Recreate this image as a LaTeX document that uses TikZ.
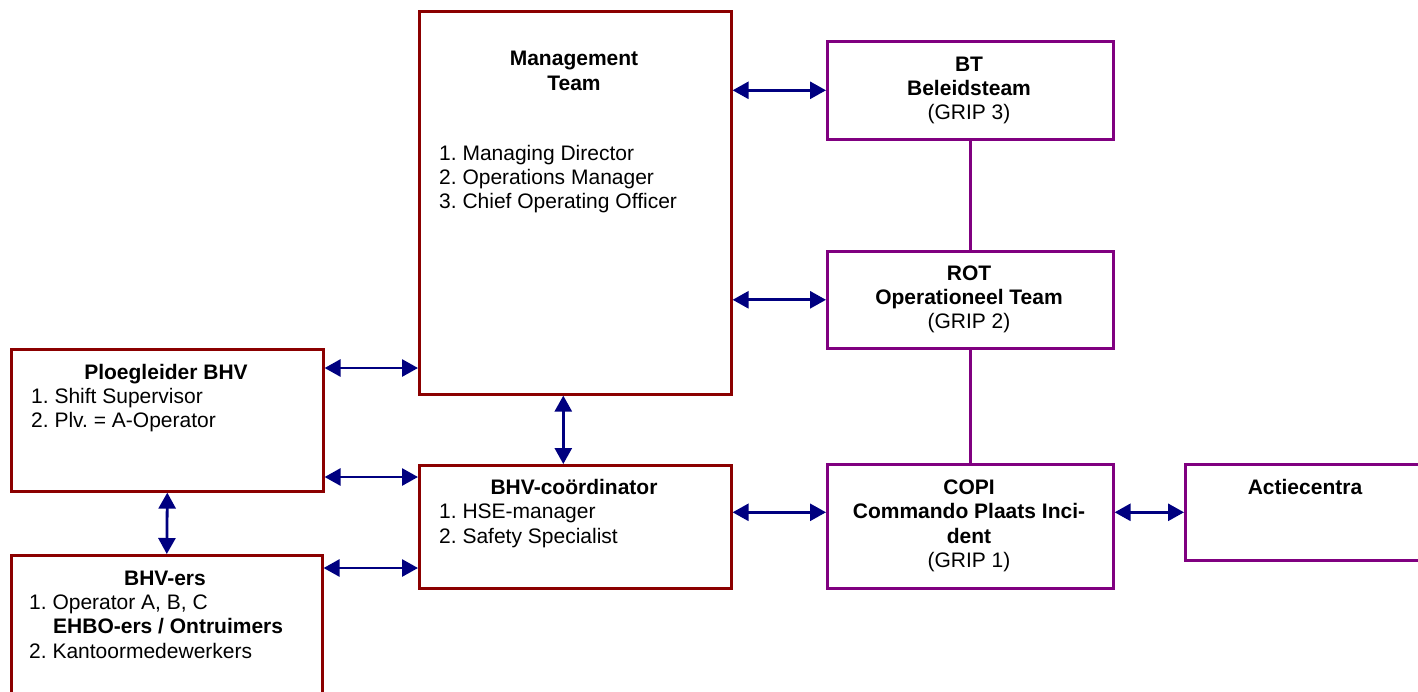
\documentclass[tikz,border=0pt]{standalone}
\usepackage{fontspec}
\setmainfont{Liberation Sans}
\usetikzlibrary{arrows.meta,calc}
\definecolor{boxred}{HTML}{8B0000}
\definecolor{boxpurple}{HTML}{800080}
\definecolor{arrowblue}{HTML}{000080}
\frenchspacing
\begin{document}
\begin{tikzpicture}[x=1pt,y=-1pt,
  redbox/.style={draw=boxred, line width=2.6pt, rectangle, inner sep=0pt, anchor=north west},
  purplebox/.style={draw=boxpurple, line width=2.6pt, rectangle, inner sep=0pt, anchor=north west},
  txt/.style={inner sep=0pt, font=\fontsize{21}{24}\selectfont},
  ttl/.style={inner sep=0pt, anchor=base, font=\fontsize{21}{24}\selectfont\bfseries},
  lst/.style={txt, anchor=base west},
  ctr/.style={txt, anchor=base},
  biarrow/.style={draw=arrowblue, line width=2.8pt, {Triangle[length=16pt,width=17pt]}-{Triangle[length=16pt,width=17pt]}},
  link/.style={draw=boxpurple, line width=2.6pt}]
\useasboundingbox (0,0) rectangle (1418,691);
\clip (0,0) rectangle (1418,691);

% boxes
\node[redbox, minimum width=312pt, minimum height=383pt] (mgmt) at (418,10) {};
\node[purplebox, minimum width=286pt, minimum height=98pt] (bt) at (826,40) {};
\node[purplebox, minimum width=286pt, minimum height=97pt] (rot) at (826,250) {};
\node[purplebox, minimum width=286pt, minimum height=124pt] (copi) at (826,463) {};
\node[purplebox, minimum width=242pt, minimum height=96pt] (actie) at (1184,463) {};
\node[redbox, minimum width=312pt, minimum height=142pt] (ploeg) at (10,348) {};
\node[redbox, minimum width=312pt, minimum height=123pt] (bhvc) at (418,464) {};
\node[redbox, minimum width=311pt, minimum height=160pt] (bhvers) at (10,554) {};

% texts: Management Team
\node[ttl] (mgmt-t1) at (574,65) {Management};
\node[ttl] (mgmt-t2) at (574,90) {Team};
\node[lst] (mgmt-l1) at (439,160) {1. Managing Director};
\node[lst] (mgmt-l2) at (439,184) {2. Operations Manager};
\node[lst] (mgmt-l3) at (439,208) {3. Chief Operating Officer};

% BT
\node[ttl] (bt-t1) at (969,71) {BT};
\node[ttl] (bt-t2) at (969,95) {Beleidsteam};
\node[ctr] (bt-t3) at (969,119) {(GRIP 3)};

% ROT
\node[ttl] (rot-t1) at (969,280) {ROT};
\node[ttl] (rot-t2) at (969,304) {Operationeel Team};
\node[ctr] (rot-t3) at (969,328) {(GRIP 2)};

% COPI
\node[ttl] (copi-t1) at (969,494) {COPI};
\node[ttl] (copi-t2) at (969,518) {Commando Plaats Inci-};
\node[ttl] (copi-t3) at (969,543) {dent};
\node[ctr] (copi-t4) at (969,567) {(GRIP 1)};

% Actiecentra
\node[ttl] (actie-t1) at (1305,494) {Actiecentra};

% Ploegleider
\node[ttl] (ploeg-t1) at (166,379) {Ploegleider BHV};
\node[lst] (ploeg-l1) at (31,403) {1. Shift Supervisor};
\node[lst] (ploeg-l2) at (31,427) {2. Plv. = A-Operator};

% BHV-coordinator
\node[ttl] (bhvc-t1) at (574,494) {BHV-coördinator};
\node[lst] (bhvc-l1) at (439,518) {1. HSE-manager};
\node[lst] (bhvc-l2) at (439,543) {2. Safety Specialist};

% BHV-ers
\node[ttl] (bhvers-t1) at (165,585) {BHV-ers};
\node[lst] (bhvers-l1) at (29,609) {1. Operator A, B, C};
\node[lst, font=\fontsize{21}{24}\selectfont\bfseries] (bhvers-l2) at (53,633) {EHBO-ers / Ontruimers};
\node[lst] (bhvers-l3) at (29,658) {2. Kantoormedewerkers};

% connectors
\draw[biarrow] (mgmt.east |- bt.west) -- (bt.west);
\draw[biarrow] (mgmt.east |- rot.west) -- (rot.west);
\draw[link] (bt.south) -- (rot.north);
\draw[link] (rot.south) -- (copi.north);
\coordinate (p1) at ($(ploeg.north east)+(0,20)$);
\draw[biarrow] (p1) -- (p1 -| mgmt.west);
\coordinate (p2) at ($(bhvc.north west)+(0,13)$);
\draw[biarrow] (p2 -| ploeg.east) -- (p2);
\coordinate (p3) at ($(bhvers.north east)+(0,14)$);
\draw[biarrow] (p3) -- (p3 -| bhvc.west);
\coordinate (p4) at ($(mgmt.south)+(-12,0)$);
\draw[biarrow] (p4) -- (p4 |- bhvc.north);
\draw[biarrow] (ploeg.south) -- (bhvers.north);
\draw[biarrow] (bhvc.east |- actie.west) -- (copi.west |- actie.west);
\draw[biarrow] (copi.east |- actie.west) -- (actie.west);
\end{tikzpicture}
\end{document}
